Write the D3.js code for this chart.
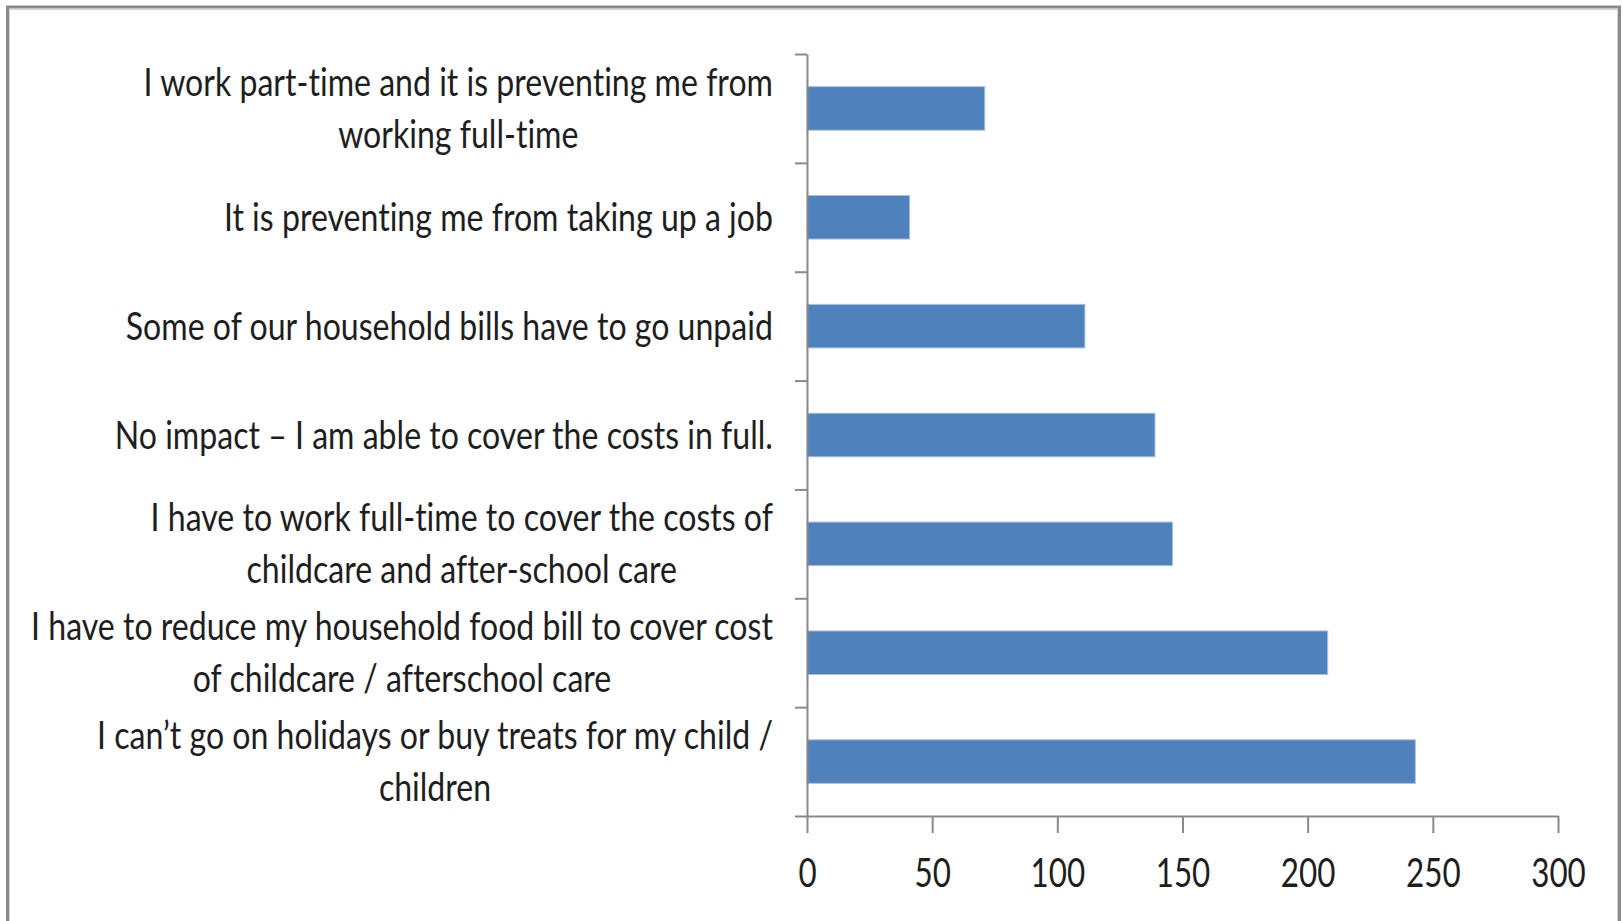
<!DOCTYPE html>
<html>
<head>
<meta charset="utf-8">
<script src="https://cdn.jsdelivr.net/npm/d3@7"></script>
<style>
  body { margin: 0; background: #fff; }
  text { font-family: Lato, "Open Sans", sans-serif; fill: #1e1e1e; font-variant-ligatures: none; }
</style>
</head>
<body>
<svg id="chart"></svg>
<script>
// categories, top to bottom, with the line breaks used in the picture
const categories = [
    "part-time", "no-job", "bills", "no-impact", "full-time", "food", "holidays"
]
const labelLines = [
    ["I work part-time and it is preventing me from", "working full-time"],
    ["It is preventing me from taking up a job"],
    ["Some of our household bills have to go unpaid"],
    ["No impact \u2013 I am able to cover the costs in full."],
    ["I have to work full-time to cover the costs of", "childcare and after-school care"],
    ["I have to reduce my household food bill to cover cost", "of childcare / afterschool care"],
    ["I can\u2019t go on holidays or buy treats for my child /", "children"]
]
const values = [71, 41, 111, 139, 146, 208, 243]
const xTicks = [0, 50, 100, 150, 200, 250, 300]

const width = 1623,
    height = 921,
    plot = { left: 807, right: 1558, top: 54, bottom: 816 },
    labelRight = 773,
    widestLabel = 742,   // width of the longest label line in the picture
    lineGap = 52,
    axisColor = "#898989",
    barColor = "#4f81bd";

const svg = d3.select("#chart")
    .attr("width", width)
    .attr("height", height)

// outer frame
svg.append("rect")
    .attr("x", 7.5).attr("y", 7)
    .attr("width", 1612).attr("height", 1000)
    .attr("fill", "none")
    .attr("stroke", "#8a8a8a")
    .attr("stroke-width", 3)
svg.append("rect")
    .attr("x", 9.5).attr("y", 9.5)
    .attr("width", 1608).attr("height", 1000)
    .attr("fill", "none")
    .attr("stroke", "#d4d4d4")
    .attr("stroke-width", 1)

const x = d3.scaleLinear().domain([0, 300]).range([plot.left, plot.right])

const y = d3.scaleBand().domain(categories)
    .range([plot.top, plot.bottom])
    .paddingInner(0.6).paddingOuter(0.3)

// category boundaries for the tick marks between categories
const yEdge = d3.scaleLinear().domain([0, categories.length]).range([plot.top, plot.bottom])

// bars
svg.append("g").selectAll("rect").data(values).enter().append("rect")
    .attr("x", x(0))
    .attr("y", (d, i) => y(categories[i]))
    .attr("width", d => x(d) - x(0))
    .attr("height", y.bandwidth())
    .attr("fill", barColor)
    .attr("stroke", "#a9bfdc")
    .attr("stroke-width", 1)

// y axis
const yAxis = svg.append("g")
    .attr("transform", "translate(" + plot.left + ",0)")
    .call(d3.axisLeft(yEdge).tickValues(d3.range(categories.length + 1)).tickSize(12).tickSizeOuter(0).tickFormat(""))

// x axis
const xAxis = svg.append("g")
    .attr("transform", "translate(0," + plot.bottom + ")")
    .call(d3.axisBottom(x).tickValues(xTicks).tickSize(17).tickSizeOuter(0))

svg.selectAll(".domain, .tick line")
    .attr("stroke", axisColor)
    .attr("stroke-width", 2)

// category labels: lines centred on each other, block right aligned
const labels = svg.append("g").selectAll("g").data(labelLines).enter().append("g")

labels.each(function (lines) {
    const t = d3.select(this).append("text")
        .attr("font-size", 38)
        .attr("text-anchor", "middle")
    lines.forEach((line, j) => {
        t.append("tspan")
            .attr("x", 0)
            .attr("y", (j - (lines.length - 1) / 2) * lineGap + 13.5)
            .text(line)
    })
})

let maxLine = 0
labels.selectAll("tspan").each(function () {
    maxLine = Math.max(maxLine, this.getComputedTextLength())
})
const squeeze = widestLabel / maxLine

labels.each(function (lines, i) {
    let w = 0
    d3.select(this).selectAll("tspan").each(function () {
        w = Math.max(w, this.getComputedTextLength())
    })
    d3.select(this).selectAll("tspan").attr("x", -w / 2)
    const yc = y(categories[i]) + y.bandwidth() / 2
    d3.select(this).attr("transform", "translate(" + labelRight + "," + yc + ") scale(" + squeeze + ",1)")
})

// tick labels
xAxis.selectAll(".tick text")
    .attr("font-size", 40)
    .attr("font-family", null)
    .attr("fill", "#1e1e1e")
    .attr("y", 71)
    .attr("dy", null)
    .attr("transform", "scale(" + (squeeze * 0.93) + ",1)")
</script>
</body>
</html>
